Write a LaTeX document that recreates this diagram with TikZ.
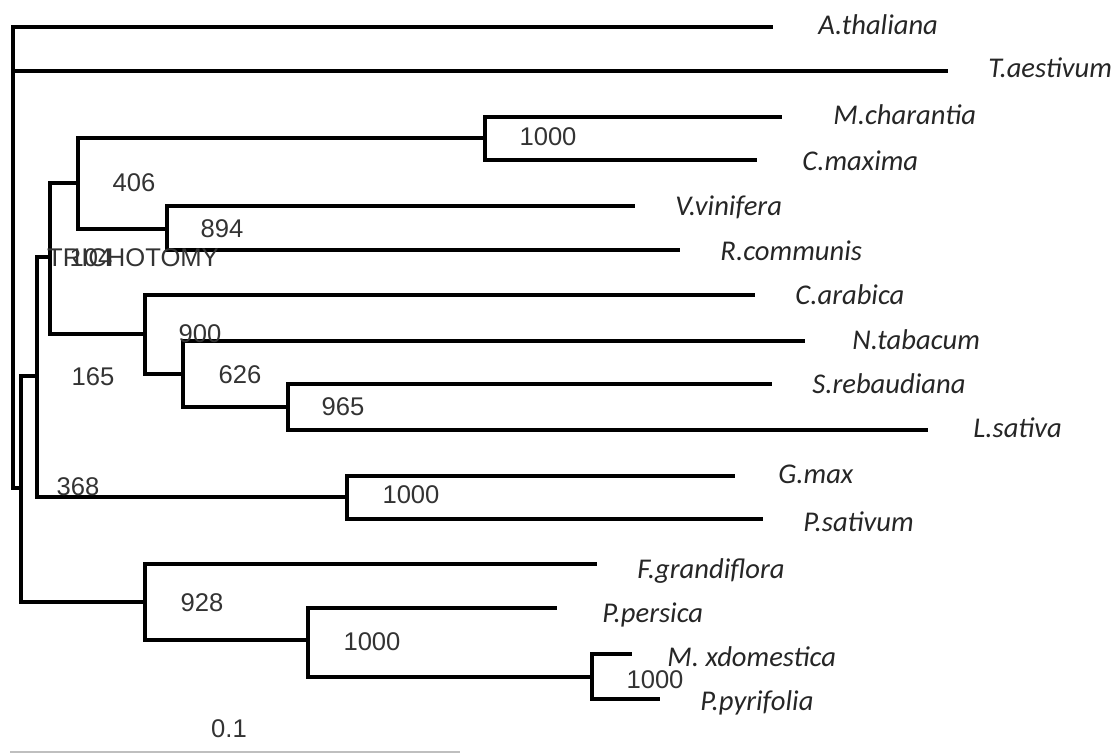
\documentclass[tikz,border=0pt]{standalone}
\usepackage{fontspec}
\setmainfont{Liberation Sans}
\newfontfamily\taxfont{Carlito}
\usetikzlibrary{positioning}

\tikzset{
  branch/.style={line width=1.8pt},
  taxon/.style={anchor=base west,inner sep=0pt,text=black!85,
    font=\taxfont\itshape\fontsize{14.3}{16}\selectfont},
  boot/.style={inner sep=0pt,text=black!80,font=\fontsize{12.8}{14}\selectfont}
}

\begin{document}
\begin{tikzpicture}[x=0.5pt,y=-0.5pt]
    \useasboundingbox (0,0) rectangle (1117,753);

    % inner nodes
    \coordinate (r0)   at (13,71);
    \coordinate (nA)   at (21,488);
    \coordinate (nB)   at (37,376);
    \coordinate (nC)   at (50,257);
    \coordinate (n406) at (78,183);
    \coordinate (nMC)  at (485,138);
    \coordinate (nVR)  at (167,229);
    \coordinate (n900) at (145,334);
    \coordinate (n626) at (183,374);
    \coordinate (n965) at (288,407);
    \coordinate (nGP)  at (347,497);
    \coordinate (n928) at (145,602);
    \coordinate (nPM)  at (308,640);
    \coordinate (nMP)  at (592,677);

    % tips
    \coordinate (tAth) at (773,27);
    \coordinate (tTae) at (948,71);
    \coordinate (tMch) at (782,117);
    \coordinate (tCma) at (757,160);
    \coordinate (tVvi) at (635,206);
    \coordinate (tRco) at (680,250);
    \coordinate (tCar) at (755,295);
    \coordinate (tNta) at (805,341);
    \coordinate (tSre) at (772,384);
    \coordinate (tLsa) at (928,430);
    \coordinate (tGma) at (735,476);
    \coordinate (tPsa) at (763,519);
    \coordinate (tFgr) at (597,564);
    \coordinate (tPpe) at (557,608);
    \coordinate (tMxd) at (632,654);
    \coordinate (tPpy) at (660,699);

    \draw[branch]
    (r0) |- (tAth)  (r0) -- (tTae)  (r0) |- (nA)
    (nA) |- (nB)  (nA) |- (n928)
    (nB) |- (nC)  (nB) |- (nGP)
    (nC) |- (n406)  (nC) |- (n900)
    (n406) |- (nMC)  (n406) |- (nVR)
    (nMC) |- (tMch)  (nMC) |- (tCma)
    (nVR) |- (tVvi)  (nVR) |- (tRco)
    (n900) |- (tCar)  (n900) |- (n626)
    (n626) |- (tNta)  (n626) |- (n965)
    (n965) |- (tSre)  (n965) |- (tLsa)
    (nGP) |- (tGma)  (nGP) |- (tPsa)
    (n928) |- (tFgr)  (n928) |- (nPM)
    (nPM) |- (tPpe)  (nPM) |- (nMP)
    (nMP) |- (tMxd)  (nMP) |- (tPpy)
    ;

    \node[taxon] (lAth) at (818,35)  {A.thaliana};
    \node[taxon] (lTae) at (988,78)  {T.aestivum};
    \node[taxon] (lMch) at (833,125) {M.charantia};
    \node[taxon] (lCma) at (802,171) {C.maxima};
    \node[taxon] (lVvi) at (675,216) {V.vinifera};
    \node[taxon] (lRco) at (720,261) {R.communis};
    \node[taxon] (lCar) at (795,305) {C.arabica};
    \node[taxon] (lNta) at (852,350) {N.tabacum};
    \node[taxon] (lSre) at (812,393) {S.rebaudiana};
    \node[taxon] (lLsa) at (973,437) {L.sativa};
    \node[taxon] (lGma) at (778,483) {G.max};
    \node[taxon] (lPsa) at (803,531) {P.sativum};
    \node[taxon] (lFgr) at (637,578) {F.grandiflora};
    \node[taxon] (lPpe) at (602,622) {P.persica};
    \node[taxon] (lMxd) at (667,666) {M. xdomestica};
    \node[taxon] (lPpy) at (700,710) {P.pyrifolia};

    \node[boot] (b1) at (548,137) {1000};
    \node[boot] (b2) at (134,183) {406};
    \node[boot] (b3) at (222,229) {894};
    \node[boot] (tri) at (133,258) {TRICHOTOMY};
    \node[boot] (b4) at (91,258) {104};
    \node[boot] (b5) at (200,334) {900};
    \node[boot] (b6) at (93,377) {165};
    \node[boot] (b7) at (240,375) {626};
    \node[boot] (b8) at (343,407) {965};
    \node[boot] (b9) at (78,487) {368};
    \node[boot] (b10) at (411,495) {1000};
    \node[boot] (b11) at (202,603) {928};
    \node[boot] (b12) at (372,642) {1000};
    \node[boot] (b13) at (655,680) {1000};

    % scale bar
    \node[boot] (sc) at (229,729) {0.1};
    \coordinate (s0) at (10,752);
    \coordinate (s1) at (460,752);
    \draw[line width=1.2pt,black!25] (s0) -- (s1);
\end{tikzpicture}
\end{document}
